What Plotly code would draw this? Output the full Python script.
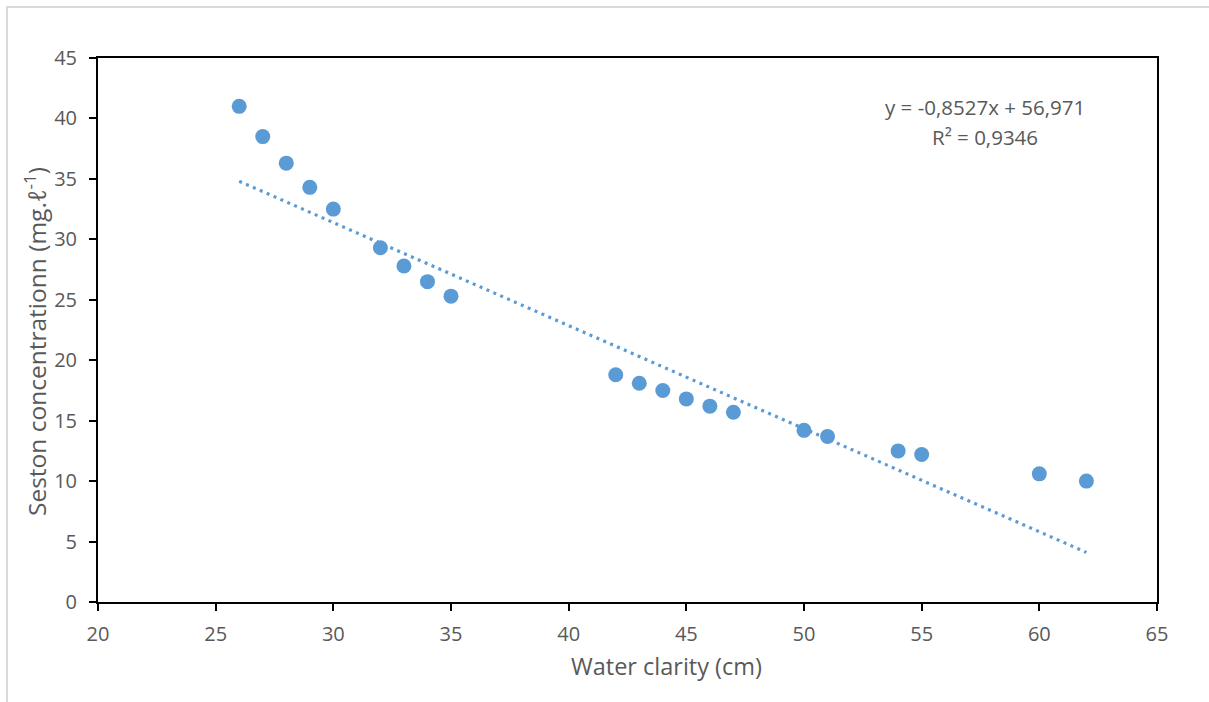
import plotly.graph_objects as go
import numpy as np

water_clarity = [26, 27, 28, 29, 30, 32, 33, 34, 35, 42, 43, 44, 45, 46, 47, 50, 51, 54, 55, 60, 62]
seston = [41.0, 38.5, 36.3, 34.3, 32.5, 29.3, 27.8, 26.5, 25.3, 18.8, 18.1, 17.5, 16.8, 16.2, 15.7, 14.2, 13.7, 12.5, 12.2, 10.6, 10.0]
trend_slope = -0.8527
trend_intercept = 56.971
r_squared = 0.9346

x_ticks = [20, 25, 30, 35, 40, 45, 50, 55, 60, 65]
y_ticks = [0, 5, 10, 15, 20, 25, 30, 35, 40, 45]

x_title = "Water clarity (cm)"
y_title = "Seston concentrationn (mg.ℓ<sup>-1</sup>)"

blue = "#5B9BD5"
grey_text = "#595959"
font_family = "Open Sans, Liberation Sans, sans-serif"

fig = go.Figure()

tx = np.array([min(water_clarity), max(water_clarity)], dtype=float)
ty = trend_slope * tx + trend_intercept
fig.add_trace(go.Scatter(
    x=tx, y=ty, mode="lines",
    line=dict(color=blue, width=3.2, dash="3px,4.5px"),
    hoverinfo="skip", showlegend=False,
))
fig.add_trace(go.Scatter(
    x=water_clarity, y=seston, mode="markers",
    marker=dict(color=blue, size=15, line=dict(width=0)),
    showlegend=False,
))

eq_text = f"y = {trend_slope:.4f}x + {trend_intercept:.3f}".replace(".", ",")
r2_text = f"R² = {r_squared:.4f}".replace(".", ",")

L, R, T, B = 98, 1157, 58, 602
W, H = R - L, B - T

def px(xp):
    return (xp - L) / W

def py(yp):
    return (B - yp) / H

fig.add_annotation(
    x=px(985), y=py(107), xref="paper", yref="paper", text=eq_text, showarrow=False,
    font=dict(family=font_family, size=20.5, color=grey_text), xanchor="center", yanchor="middle",
)
fig.add_annotation(
    x=px(985), y=py(137), xref="paper", yref="paper", text=r2_text, showarrow=False,
    font=dict(family=font_family, size=20.5, color=grey_text), xanchor="center", yanchor="middle",
)
fig.add_annotation(
    x=px(666), y=py(666), xref="paper", yref="paper", text=x_title, showarrow=False,
    font=dict(family=font_family, size=23.5, color=grey_text), xanchor="center", yanchor="middle",
)
fig.add_annotation(
    x=px(36), y=py(342), xref="paper", yref="paper", text=y_title, showarrow=False,
    textangle=-90,
    font=dict(family=font_family, size=24.5, color=grey_text), xanchor="center", yanchor="middle",
)

# outer chart border (light grey)
fig.add_shape(
    type="rect", xref="paper", yref="paper",
    x0=px(7), y0=py(720), x1=px(1230), y1=py(7),
    line=dict(color="#D9D9D9", width=2), fillcolor="rgba(0,0,0,0)", layer="below",
)

fig.update_layout(
    width=1209, height=702,
    margin=dict(l=L, r=1209 - R, t=T, b=702 - B),
    paper_bgcolor="white", plot_bgcolor="white",
    font=dict(family=font_family, color=grey_text),
    xaxis=dict(
        range=[20, 65], tickvals=x_ticks, ticks="outside", ticklen=7, tickwidth=2,
        tickcolor="black", showline=True, linecolor="black", linewidth=2, mirror=True,
        showgrid=False, zeroline=False, tickfont=dict(size=20, color=grey_text),
        ticklabelstandoff=6,
    ),
    yaxis=dict(
        range=[0, 45], tickvals=y_ticks, ticks="outside", ticklen=7, tickwidth=2,
        tickcolor="black", showline=True, linecolor="black", linewidth=2, mirror=True,
        showgrid=False, zeroline=False, tickfont=dict(size=20, color=grey_text),
        ticklabelstandoff=8,
    ),
)

fig.write_html("out.html")
